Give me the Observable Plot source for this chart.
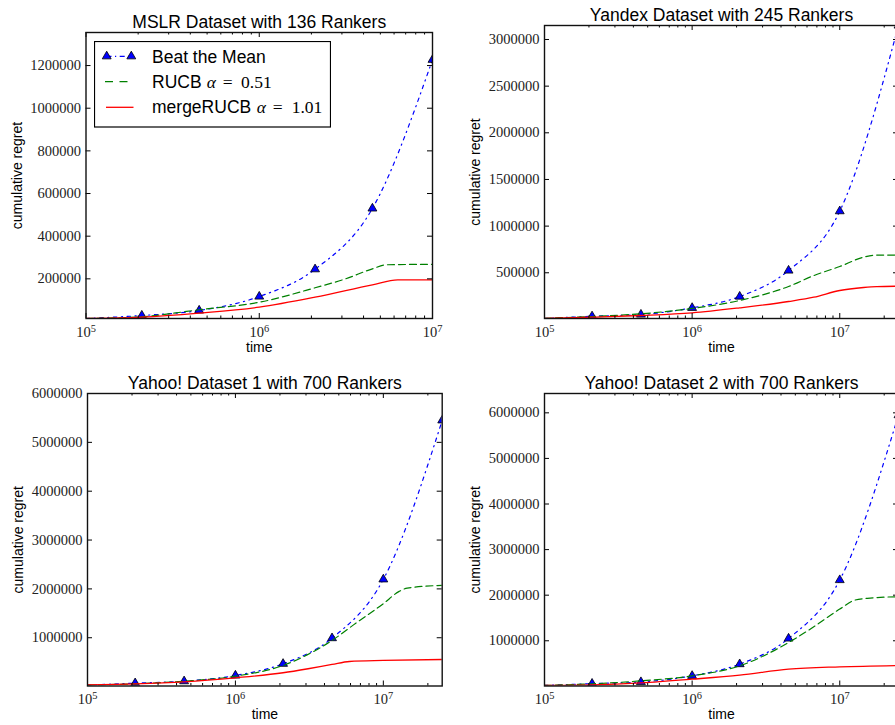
<!DOCTYPE html>
<html><head><meta charset="utf-8">
<script src="https://cdn.jsdelivr.net/npm/d3@7"></script>
<script src="https://cdn.jsdelivr.net/npm/@observablehq/plot@0.6"></script>
<style>
html,body{margin:0;padding:0;background:#fff;overflow:hidden;}
#root{position:relative;width:895px;height:725px;overflow:hidden;background:#fff;}
#root svg.plotp{position:absolute;}
#legend{position:absolute;left:94px;top:41px;}
</style></head>
<body><div id="root"></div>
<script>
// ---- tick values ----
const xMajor = [1e5, 1e6, 1e7];
const xMinor = [2e5,3e5,4e5,5e5,6e5,7e5,8e5,9e5,2e6,3e6,4e6,5e6,6e6,7e6,8e6,9e6,2e7];
const mslrYTicks = [200000, 400000, 600000, 800000, 1000000, 1200000];
const yandexYTicks = [500000, 1000000, 1500000, 2000000, 2500000, 3000000];
const yahoo1YTicks = [1000000, 2000000, 3000000, 4000000, 5000000, 6000000];
const yahoo2YTicks = [1000000, 2000000, 3000000, 4000000, 5000000, 6000000];

// ---- series labels ----
const seriesNames = ["Beat the Mean", "RUCB", "mergeRUCB"];
const titles = ["MSLR Dataset with 136 Rankers", "Yandex Dataset with 245 Rankers",
                "Yahoo! Dataset 1 with 700 Rankers", "Yahoo! Dataset 2 with 700 Rankers"];

// ---- MSLR ----
const mslrBtmT = [1e5, 2.1e5, 4.5e5, 1e6, 2.1e6, 4.5e6, 1e7];
const mslrBtm  = [14000, 28000, 51600, 117000, 245000, 530000, 1227000];
const mslrRucbT = [1e5, 2.1e5, 3e5, 4.5e5, 1e6, 2.1e6, 3.15e6, 4.5e6, 5.4e6, 1e7];
const mslrRucb  = [14000, 22000, 36000, 55000, 90000, 158000, 200000, 247000, 266000, 268000];
const mslrMergeT = [1e5, 2.1e5, 4.5e5, 1e6, 2.1e6, 4.5e6, 6.3e6, 1e7];
const mslrMerge  = [14000, 20000, 39000, 67000, 114000, 172000, 195500, 195500];

// ---- Yandex ----
const yxBtmT = [1e5, 2.1e5, 4.5e5, 1e6, 2.1e6, 4.5e6, 1e7, 2.5e7];
const yxBtm  = [10000, 34000, 52500, 124000, 245000, 524000, 1160000, 3150000];
const yxT    = [1e5, 2.1e5, 4.5e5, 1e6, 2.1e6, 4.5e6, 6.67e6, 1e7, 1.45e7, 1.78e7, 2.5e7];
const yxRucb = [12000, 31000, 60000, 118000, 203000, 353000, 470000, 567000, 667000, 690000, 690000];
const yxMerge = [10000, 24000, 42000, 70000, 124000, 192000, 238000, 310000, 342000, 352000, 356000];

// ---- Yahoo 1 ----
const y1BtmT = [1e5, 2.1e5, 4.5e5, 1e6, 2.1e6, 4.5e6, 1e7, 2.5e7];
const y1Btm  = [30000, 70000, 110000, 227000, 467000, 992000, 2195000, 5450000];
const y1RucbT = [1e5, 2.1e5, 4.5e5, 1e6, 2.1e6, 4.5e6, 6.67e6, 1e7, 1.28e7, 1.45e7, 2.5e7];
const y1Rucb  = [30000, 57000, 110000, 213000, 432000, 945000, 1320000, 1697000, 1949000, 2016000, 2072000];
const y1MergeT = [1e5, 2.1e5, 4.5e5, 1e6, 2.1e6, 3.1e6, 4.5e6, 5.9e6, 1e7, 2.5e7];
const y1Merge  = [37000, 57000, 98000, 180000, 283000, 365000, 453000, 514000, 535000, 555000];

// ---- Yahoo 2 ----
const y2BtmT = [1e5, 2.1e5, 4.5e5, 1e6, 2.1e6, 4.5e6, 1e7, 2.5e7];
const y2Btm  = [20000, 60000, 95000, 231000, 488000, 1050000, 2332000, 5950000];
const y2RucbT = [1e5, 2.1e5, 4.5e5, 1e6, 2.1e6, 4.5e6, 6.67e6, 1e7, 1.27e7, 1.61e7, 2.5e7];
const y2Rucb  = [20000, 55000, 121000, 231000, 450000, 962000, 1307000, 1695000, 1893000, 1937000, 1966000];
const y2MergeT = [1e5, 2.1e5, 4.5e5, 1e6, 2.1e6, 4.5e6, 1e7, 2.5e7];
const y2Merge  = [20000, 33000, 77000, 158000, 246000, 378000, 428000, 457000];

// ---- styling ----
const SANS = "'Liberation Sans', Arial, Helvetica, sans-serif";
const SERIF = "'Liberation Serif', 'Times New Roman', serif";
const BLUE = "#0000ff", GREEN = "#008000", RED = "#ff0000";
const DASHDOT = "3.5,4.5,1.2,4.5", DASHED = "7,4";
const sup = {5: "\u2075", 6: "\u2076", 7: "\u2077"};
const supBack = {"\u2075": "5", "\u2076": "6", "\u2077": "7"};
const fmtPow = d => "10" + sup[Math.round(Math.log10(d))];

const rows = (T, V) => T.map((t, i) => ({t, v: V[i]}));

function panel(o) {
  const pw = o.width - o.ml - o.mr, ph = o.height - o.mt - o.mb;
  const btm = rows(o.btmT, o.btm), rucb = rows(o.rucbT, o.rucb), merge = rows(o.mergeT, o.merge);
  const xMin = xMinor.filter(d => d <= o.xDomain[1]);
  const svg = Plot.plot({
    width: o.width, height: o.height,
    marginLeft: o.ml, marginRight: o.mr, marginTop: o.mt, marginBottom: o.mb,
    x: {type: "log", domain: o.xDomain},
    y: {domain: o.yDomain},
    style: {background: "transparent", color: "#000"},
    marks: [
      Plot.line(btm, {x: "t", y: "v", stroke: BLUE, strokeWidth: 1.2, strokeDasharray: DASHDOT, curve: "monotone-x", clip: true}),
      Plot.dot(btm.filter(d => d.t > 1e5), {x: "t", y: "v", symbol: "triangle", r: 3.3, fill: BLUE, stroke: "#000", strokeWidth: 0.8, clip: true}),
      Plot.line(rucb, {x: "t", y: "v", stroke: GREEN, strokeWidth: 1.2, strokeDasharray: DASHED, curve: "monotone-x", clip: true}),
      Plot.line(merge, {x: "t", y: "v", stroke: RED, strokeWidth: 1.3, curve: "monotone-x", clip: true}),
      // inward ticks (matplotlib style), bottom & top
      Plot.ruleX(xMajor, {x: d => d, insetTop: ph - 5, stroke: "#000", strokeWidth: 1}),
      Plot.ruleX(xMajor, {x: d => d, insetBottom: ph - 5, stroke: "#000", strokeWidth: 1}),
      Plot.ruleX(xMin, {x: d => d, insetTop: ph - 2.5, stroke: "#000", strokeWidth: 1}),
      Plot.ruleX(xMin, {x: d => d, insetBottom: ph - 2.5, stroke: "#000", strokeWidth: 1}),
      // inward ticks left & right
      Plot.ruleY(o.yTicks, {y: d => d, insetRight: pw - 5, stroke: "#000", strokeWidth: 1}),
      Plot.ruleY(o.yTicks, {y: d => d, insetLeft: pw - 5, stroke: "#000", strokeWidth: 1}),
      Plot.frame({stroke: "#111", strokeWidth: 1.4}),
      Plot.axisX({ticks: xMajor, tickSize: 0, tickPadding: 8, tickFormat: fmtPow, label: null,
                  fontSize: 14.5, fontFamily: SERIF, fill: "#222"}),
      Plot.axisY({ticks: o.yTicks, tickSize: 0, tickPadding: 5, tickFormat: d => String(d), label: null,
                  fontSize: 14.5, fontFamily: SERIF, fill: "#222"}),
      Plot.text([o.title], {text: d => d, frameAnchor: "top", dy: -5, lineAnchor: "bottom",
                            fontSize: 17.5, fontFamily: SANS, fill: "#000"}),
      Plot.text(["time"], {text: d => d, frameAnchor: "bottom", dy: 33, lineAnchor: "bottom",
                           fontSize: 14, fontFamily: SANS, fill: "#000"}),
      Plot.text(["cumulative regret"], {text: d => d, frameAnchor: "left", dx: -74, rotate: -90,
                           lineAnchor: "top", textAnchor: "middle",
                           fontSize: 14, fontFamily: SANS, fill: "#000"})
    ]
  });
  // turn the unicode superscripts of the x tick labels into raised tspans
  svg.querySelectorAll("text").forEach(t => {
    const m = /^10([\u2075\u2076\u2077])$/.exec(t.textContent.trim());
    if (!m) return;
    while (t.firstChild) t.removeChild(t.firstChild);
    t.appendChild(document.createTextNode("10"));
    const ts = document.createElementNS("http://www.w3.org/2000/svg", "tspan");
    ts.setAttribute("dy", "-0.5em");
    ts.setAttribute("font-size", "0.72em");
    ts.textContent = supBack[m[1]];
    t.appendChild(ts);
  });
  svg.classList.add("plotp");
  svg.style.left = o.left + "px";
  svg.style.top = o.top + "px";
  return svg;
}

const root = document.getElementById("root");
root.appendChild(panel({title: titles[0], left: 0, top: 0, width: 445, height: 360, ml: 85.5, mr: 13, mt: 32, mb: 42,
  xDomain: [1e5, 1e7], yDomain: [14000, 1355000], yTicks: mslrYTicks,
  btmT: mslrBtmT, btm: mslrBtm, rucbT: mslrRucbT, rucb: mslrRucb, mergeT: mslrMergeT, merge: mslrMerge}));
root.appendChild(panel({title: titles[1], left: 450, top: 0, width: 460, height: 360, ml: 94, mr: 12, mt: 25, mb: 42,
  xDomain: [1e5, 2.5e7], yDomain: [10000, 3150000], yTicks: yandexYTicks,
  btmT: yxBtmT, btm: yxBtm, rucbT: yxT, rucb: yxRucb, mergeT: yxT, merge: yxMerge}));
root.appendChild(panel({title: titles[2], left: 0, top: 360, width: 455, height: 365, ml: 87, mr: 13.3, mt: 33, mb: 39.5,
  xDomain: [1e5, 2.5e7], yDomain: [12000, 6000000], yTicks: yahoo1YTicks,
  btmT: y1BtmT, btm: y1Btm, rucbT: y1RucbT, rucb: y1Rucb, mergeT: y1MergeT, merge: y1Merge}));
root.appendChild(panel({title: titles[3], left: 450, top: 360, width: 460, height: 365, ml: 94, mr: 12, mt: 33, mb: 39.5,
  xDomain: [1e5, 2.5e7], yDomain: [8000, 6424000], yTicks: yahoo2YTicks,
  btmT: y2BtmT, btm: y2Btm, rucbT: y2RucbT, rucb: y2Rucb, mergeT: y2MergeT, merge: y2Merge}));

// ---- legend (on MSLR panel) ----
const lg = d3.select(root).append("svg").attr("id", "legend").attr("width", 237).attr("height", 87);
lg.append("rect").attr("x", 0.5).attr("y", 0.5).attr("width", 236).attr("height", 85.5)
  .attr("fill", "#fff").attr("stroke", "#000").attr("stroke-width", 1.2);
const tri = d3.symbol(d3.symbolTriangle, 3.3 * 3.3 * Math.PI)();
lg.append("line").attr("x1", 12.5).attr("x2", 37.5).attr("y1", 15.3).attr("y2", 15.3)
  .attr("stroke", BLUE).attr("stroke-width", 1.2).attr("stroke-dasharray", "5,3.5,1.2,3.5");
[12.7, 37.3].forEach(x => lg.append("path").attr("d", tri).attr("transform", `translate(${x},15.3)`)
  .attr("fill", BLUE).attr("stroke", "#000").attr("stroke-width", 0.8));
lg.append("line").attr("x1", 11).attr("x2", 36).attr("y1", 40.7).attr("y2", 40.7)
  .attr("stroke", GREEN).attr("stroke-width", 1.2).attr("stroke-dasharray", "8,6.5");
lg.append("line").attr("x1", 12).attr("x2", 39.5).attr("y1", 66.3).attr("y2", 66.3)
  .attr("stroke", RED).attr("stroke-width", 1.3);
lg.append("text").attr("x", 58).attr("y", 21.5).attr("font-family", SANS).attr("font-size", 17.5).text(seriesNames[0]);
const t2 = lg.append("text").attr("y", 46.5).attr("font-size", 17.5);
t2.append("tspan").attr("x", 58).attr("font-family", SANS).text(seriesNames[1]);
t2.append("tspan").attr("x", 112.7).attr("font-family", SERIF).attr("font-style", "italic").text("\u03B1");
t2.append("tspan").attr("x", 128.7).attr("font-family", SERIF).text("=");
t2.append("tspan").attr("x", 147).attr("font-family", SERIF).text("0.51");
const t3 = lg.append("text").attr("y", 72).attr("font-size", 17.5);
t3.append("tspan").attr("x", 58).attr("font-family", SANS).text(seriesNames[2]);
t3.append("tspan").attr("x", 162.7).attr("font-family", SERIF).attr("font-style", "italic").text("\u03B1");
t3.append("tspan").attr("x", 178.7).attr("font-family", SERIF).text("=");
t3.append("tspan").attr("x", 197.7).attr("font-family", SERIF).text("1.01");
</script>
</body></html>
